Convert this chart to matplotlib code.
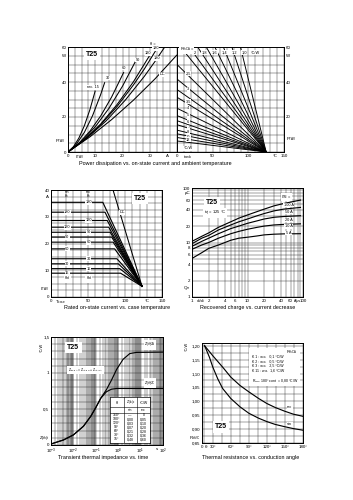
import matplotlib
matplotlib.use('Agg')
import matplotlib.pyplot as plt
import numpy as np

plt.rcParams['font.family'] = ['Liberation Sans', 'DejaVu Sans']
plt.rcParams['mathtext.fontset'] = 'custom'
plt.rcParams['mathtext.rm'] = 'Liberation Sans'
plt.rcParams['mathtext.it'] = 'Liberation Sans:italic'
plt.rcParams['mathtext.default'] = 'regular'

# ---------------- DATA ----------------
# Power dissipation vs on-state current (left part)
pd_labels = ['rec. 15', '30', '60', '90', '120', '180', '180', 'DC']
pd_I = [[0, 2, 4, 6, 8, 10],
        [0, 3, 6, 9, 12, 13.5],
        [0, 4, 8, 12, 16, 20.5],
        [0, 5, 10, 15, 20, 25],
        [0, 6, 12, 18, 24, 30.5],
        [0, 6, 12, 18, 24, 28, 33],
        [0, 7, 14, 21, 28, 32, 35.5],
        [0, 8, 16, 24, 32, 40]]
pd_P = [[0, 3.0, 8.0, 15.0, 24.0, 35.0],
        [0, 4.3, 11.2, 20.7, 32.9, 39.9],
        [0, 5.0, 11.8, 20.6, 31.4, 45.7],
        [0, 6.1, 14.4, 24.9, 37.6, 52.5],
        [0, 7.0, 16.0, 27.1, 40.1, 56.5],
        [0, 6.9, 15.6, 26.0, 38.3, 47.4, 60.0],
        [0, 8.0, 17.8, 29.6, 43.2, 51.9, 60.0],
        [0, 8.6, 18.5, 29.6, 41.9, 55.5]]
pd_label_xy = [(9.0, 37.0), (14.5, 42.3), (20.6, 48.0), (25.7, 52.6),
               (29.5, 56.4), (32.1, 59.3), (32.7, 53.6), (34.5, 44.5)]

# Power dissipation vs ambient temperature (right part)
amb_T_conv = 125
amb_P0_top = [62.5, 69.4, 78.1, 89.3, 104.2, 125.0, 156.0, 208.0]
amb_top_labels = ['2', '1,8', '1,6', '1,4', '1,2', '1,0', '°C/W']
amb_top_label_T = [25.2, 38.3, 52.3, 66.3, 80.9, 93.9, 109.3]
amb_P0_left = [50.0, 41.7, 35.7, 31.3, 25.0, 20.8, 17.9, 15.6, 12.5, 10.4, 8.3, 6.3]
amb_left_labels = ['2,5', '3', '3,5', '4', '5', '6', '7', '8', '10', '12', '°C/W']
amb_left_label_P = [45.0, 35.8, 29.1, 25.0, 21.1, 17.3, 14.1, 11.6, 8.8, 6.9, 2.1]

# Rated on-state current vs case temperature
ic_plateau = [35.4, 31.7, 28.6, 26.1, 24.2, 22.4, 20.5, 18.0, 14.3, 12.4, 10.6, 8.9]
ic_knee = [70, 73, 76, 78, 80, 82, 84, 86, 89, 91, 93, 94]
ic_end = (123, 4.0)
ic_labels = ['180', '180', '120', '120', '90', '90', '60', '60', '30', '30', '15', '15']
ic_dc_T = [76, 123]
ic_dc_I = [47.2, 4.0]

# Recovered charge vs current decrease
qr_x = [1, 1.5, 2, 3, 5, 7, 10, 15, 20, 30, 45, 90]
qr_series = {
    '100 A': [10.5, 13, 15, 19, 24, 28, 32, 37, 41, 47, 52, 60],
    '50 A': [9.5, 12, 13.5, 17, 21, 24, 27, 31, 34, 38, 41, 44],
    '20 A': [8.5, 10.5, 12, 14.5, 18, 20, 22.5, 25, 27, 29, 30, 31],
    '10 A': [7.5, 9, 10, 12, 14.5, 16, 17.5, 19, 20, 21, 21.5, 22],
    '5 A': [5.1, 6.5, 7.8, 9, 11, 12, 12.5, 13.2, 13.8, 14.2, 14.4, 14.5],
}
qr_label_y = [48.8, 36.3, 25.8, 20.0, 14.9]

# Transient thermal impedance vs time
zt_t = [0.001, 0.0036, 0.01, 0.028, 0.06, 0.1, 0.167, 0.3, 0.5, 0.85, 1.65, 3.3, 6.5, 100]
zt_JA = [0.014, 0.07, 0.14, 0.26, 0.40, 0.52, 0.65, 0.77, 0.90, 1.05, 1.19, 1.27, 1.286, 1.29]
zt_JC = [0.014, 0.07, 0.14, 0.26, 0.40, 0.52, 0.65, 0.74, 0.775, 0.785, 0.785, 0.785, 0.785, 0.785]
zt_theta = ['360°', '180°', '120°', '90°', '60°', '30°', '15°']
zt_sin = ['—', '0,00', '0,03', '0,07', '0,21', '0,32', '0,48']
zt_rec = ['0', '0,05', '0,10', '0,20', '0,28', '0,36', '0,60']

# Thermal resistance vs conduction angle
ra_rec_deg = [16.4, 30, 46.4, 60, 75.3, 90, 106.4, 120, 133.6, 148.9, 163.6, 180]
ra_rec = [1.20, 1.164, 1.123, 1.087, 1.057, 1.034, 1.010, 0.992, 0.978, 0.965, 0.954, 0.946]
ra_sin_deg = [16.4, 24.5, 30, 38.2, 46.4, 60, 75.3, 90, 106.4, 120, 133.6, 148.9, 163.6, 180]
ra_sin = [1.20, 1.158, 1.123, 1.081, 1.046, 1.010, 0.980, 0.957, 0.939, 0.927, 0.917, 0.909, 0.902, 0.896]
ra_table = ['K 1 : w.o.   0,1 °C/W', 'K 2 : w.o.   0,5 °C/W',
            'K 3 : w.o.   2,5 °C/W', 'K 11 : w.o.  1,6 °C/W']

# ---------------- FIGURE ----------------
W, H = 353, 500
fig = plt.figure(figsize=(W / 100, H / 100), dpi=100)
fig.patch.set_facecolor('white')

TICK = 3.2
LW = 0.75
GRID = dict(color='#222222', lw=0.3)


def px_ax(x0, y0, x1, y1):
    return fig.add_axes([x0 / W, 1 - y1 / H, (x1 - x0) / W, (y1 - y0) / H])


def style(ax):
    for s in ax.spines.values():
        s.set_linewidth(0.7)
    ax.tick_params(which='both', length=0, labelsize=TICK, pad=1.2)
    ax.xaxis.remove_overlapping_locs = False
    ax.yaxis.remove_overlapping_locs = False
    ax.grid(False, which='major')
    ax.grid(True, which='minor', **GRID)
    ax.set_axisbelow(True)


def tbox(ax, x, y, s, size=5, **kw):
    ax.text(x, y, s, fontsize=size, fontweight='bold', ha='center', va='center',
            bbox=dict(facecolor='white', edgecolor='none', pad=1.5), zorder=5, **kw)


def small(ax, x, y, s, size=2.8, bg=False, **kw):
    d = dict(fontsize=size, ha='center', va='center', zorder=6)
    d.update(kw)
    if bg:
        d['bbox'] = dict(facecolor='white', edgecolor='none', pad=0.3)
    ax.text(x, y, s, **d)


# ---- top left
ax1 = px_ax(68, 47, 177, 152)
style(ax1)
ax1.set_xlim(0, 40)
ax1.set_ylim(0, 60)
ax1.set_xticks(np.arange(0, 40.1, 2.5), minor=True)
ax1.set_yticks(np.arange(0, 60.1, 5), minor=True)
ax1.set_xticks([0, 4.3, 10, 20, 30, 36.5], ['0', r'$I_{TAV}$', '10', '20', '30', 'A'])
ax1.set_yticks([0, 7, 20, 40, 55, 60], ['0', r'$P_{TAV}$', '20', '40', 'W', '60'])
for I, P in zip(pd_I, pd_P):
    ax1.plot(I, P, color='k', lw=LW, solid_capstyle='butt')
for lab, (x, y) in zip(pd_labels, pd_label_xy):
    small(ax1, x, y, lab, bg=True)
small(ax1, 31.3, 62.0, 'θ =', clip_on=False)
tbox(ax1, 8.8, 56.0, 'T25')

# ---- top right
ax2 = px_ax(177, 47, 284, 152)
style(ax2)
ax2.set_xlim(0, 150)
ax2.set_ylim(0, 60)
ax2.set_xticks(np.arange(0, 150.1, 10), minor=True)
ax2.set_yticks(np.arange(0, 60.1, 5), minor=True)
ax2.set_xticks([0, 15, 50, 100, 138, 150], ['0', r'$t_{amb}$', '50', '100', '°C', '150'])
ax2.yaxis.tick_right()
ax2.set_yticks([8, 20, 40, 55, 60], [r'$P_{TAV}$', '20', '40', 'W', '60'])
for P0 in amb_P0_top + amb_P0_left:
    ax2.plot([0, amb_T_conv], [P0, 0], color='k', lw=LW * 0.9)
small(ax2, 13.6, 58.6, r'$R_{thCA}$ =', bg=True)
for lab, T in zip(amb_top_labels, amb_top_label_T):
    small(ax2, T, 56.8, lab, bg=True)
for lab, P in zip(amb_left_labels, amb_left_label_P):
    small(ax2, 15.9, P, lab, bg=True)

fig.text(155 / W, 1 - 163 / H, 'Power dissipation vs. on-state current and ambient temperature',
         fontsize=3.9, ha='center', va='center')

# ---- middle left
ax3 = px_ax(51, 190, 162, 297)
style(ax3)
ax3.set_xlim(0, 150)
ax3.set_ylim(0, 40)
ax3.set_xticks(np.arange(0, 150.1, 10), minor=True)
ax3.set_yticks(np.arange(0, 40.1, 2.5), minor=True)
ax3.set_xticks([0, 12.5, 50, 100, 130, 150], ['0', r'$T_{case}$', '50', '100', '°C', '150'])
ax3.set_yticks([0, 3.5, 10, 20, 30, 37.5, 40], ['0', r'$I_{TAV}$', '10', '20', '30', 'A', '40'])
for i, (pl, kn) in enumerate(zip(ic_plateau, ic_knee)):
    ax3.plot([0, kn, ic_end[0]], [pl, pl, ic_end[1]], color='k', lw=LW * 1.1)
    xl = 51 if i % 2 == 0 else 22
    small(ax3, xl, pl, ic_labels[i], bg=True)
ax3.plot(ic_dc_T, ic_dc_I, color='k', lw=LW)
small(ax3, 96, 31.7, 'DC', bg=True)
small(ax3, 22, 38.6, 'sin\nθ=', size=2.5, linespacing=0.9)
small(ax3, 51, 38.6, 'rec\nθ=', size=2.5, linespacing=0.9)
small(ax3, 22, 7.0, r'$θ_{el}$', bg=True)
small(ax3, 51, 7.0, r'$θ_{el}$', bg=True)
tbox(ax3, 120, 36.8, 'T25')

fig.text(117 / W, 1 - 307 / H, 'Rated on-state current vs. case temperature',
         fontsize=3.9, ha='center', va='center')

# ---- middle right
ax4 = px_ax(192, 188, 303, 297)
style(ax4)
ax4.set_xscale('log')
ax4.set_yscale('log')
ax4.set_xlim(1, 100)
ax4.set_ylim(1, 100)
mins = [m * 10 ** d for d in range(0, 2) for m in range(1, 10)] + [100]
ax4.set_xticks(mins, minor=True)
ax4.set_yticks(mins, minor=True)
ax4.set_xticks([1, 2, 4, 6, 10, 20, 40, 60, 100],
               ['1', '2', '4', '6', '10', '20', '40', '60', '100'],
               minor=False)
ax4.text(1.42, -0.018, '-di/dt', fontsize=2.5, ha='center', va='top',
         transform=ax4.get_xaxis_transform())
ax4.text(79, -0.018, 'A/µs', fontsize=2.5, ha='center', va='top',
         transform=ax4.get_xaxis_transform())
ax4.set_yticks([1, 1.53, 2, 4, 6, 8, 10, 20, 40, 60, 82, 100],
               ['1', r'$Q_{rr}$', '2', '4', '6', '8', '10', '20', '40', '60', 'µC', '100'],
               minor=False)
ax4.xaxis.set_minor_formatter(matplotlib.ticker.NullFormatter())
ax4.yaxis.set_minor_formatter(matplotlib.ticker.NullFormatter())
for (lab, vals), ly in zip(qr_series.items(), qr_label_y):
    ax4.plot(qr_x, vals, color='k', lw=LW * 1.1)
    small(ax4, 55, ly, lab, bg=True)
small(ax4, 50, 68, r'$I_{TM}$ =', bg=True)
tbox(ax4, 2.3, 55, 'T25')
small(ax4, 2.6, 35, r'$t_{vj}$ = 125 °C', size=3.0, bg=True)

fig.text(248 / W, 1 - 308 / H, 'Recovered charge vs. current decrease',
         fontsize=3.9, ha='center', va='center')

# ---- bottom left
ax5 = px_ax(51, 337, 163, 445)
style(ax5)
ax5.set_xscale('log')
ax5.set_xlim(1e-3, 1e2)
ax5.set_ylim(0, 1.5)
mins5 = [m * 10.0 ** d for d in range(-3, 2) for m in np.arange(1, 10, 0.5)] + [100]
ax5.set_xticks(mins5, minor=True)
ax5.set_yticks(np.arange(0, 1.51, 0.1), minor=True)
ax5.set_xticks([1e-3, 1e-2, 1e-1, 1, 10, 10 ** 1.75, 100],
               [r'$10^{-3}$', r'$10^{-2}$', r'$10^{-1}$', r'$10^{0}$', r'$10^{1}$', 's', r'$10^{2}$'],
               minor=False)
ax5.xaxis.set_minor_formatter(matplotlib.ticker.NullFormatter())
ax5.set_yticks([0, 0.12, 0.5, 1, 1.5], ['0', r'$Z_{(th)t}$', '0,5', '1', '1,5'])
ax5.text(-0.085, 0.9, '°C/W', rotation=90, fontsize=2.8, transform=ax5.transAxes,
         ha='center', va='center')
ax5.plot(zt_t, zt_JA, color='k', lw=LW * 1.1)
ax5.plot(zt_t, zt_JC, color='k', lw=LW * 1.1)
small(ax5, 26, 1.39, r'$Z_{(th)JA}$', bg=True)
small(ax5, 26, 0.86, r'$Z_{(th)JC}$', bg=True)
tbox(ax5, 0.0101, 1.35, 'T25')
small(ax5, 0.035, 1.045, r'$Z_{(th)JA} = Z_{(th)JC} + Z_{(th)CA}$', size=2.5, bg=True)

tab = fig.add_axes([110 / W, 1 - 443 / H, 40 / W, 46 / H])
tab.set_xlim(0, 1)
tab.set_ylim(0, 1)
tab.set_xticks([])
tab.set_yticks([])
for s in tab.spines.values():
    s.set_linewidth(0.5)
tab.axvline(0.34, color='k', lw=0.4)
tab.axvline(0.67, color='k', lw=0.4)
tab.axhline(0.78, color='k', lw=0.4)
tab.axhline(0.66, color='k', lw=0.4)
tab.text(0.17, 0.88, 'θ', fontsize=2.8, ha='center', va='center')
tab.text(0.505, 0.88, r'$Z_{(th)z}$', fontsize=2.6, ha='center', va='center')
tab.text(0.835, 0.88, '°C/W', fontsize=2.5, ha='center', va='center')
tab.text(0.505, 0.72, 'sin', fontsize=2.4, ha='center', va='center')
tab.text(0.835, 0.72, 'rec', fontsize=2.4, ha='center', va='center')
for k, (th, sv, rv) in enumerate(zip(zt_theta, zt_sin, zt_rec)):
    yy = 0.60 - k * 0.087
    tab.text(0.17, yy, th, fontsize=2.5, ha='center', va='center')
    tab.text(0.505, yy, sv, fontsize=2.5, ha='center', va='center')
    tab.text(0.835, yy, rv, fontsize=2.5, ha='center', va='center')

fig.text(103 / W, 1 - 457 / H, 'Transient thermal impedance vs. time',
         fontsize=3.9, ha='center', va='center')

# ---- bottom right
ax6 = px_ax(202, 343, 303, 443)
style(ax6)
ax6.set_xlim(12, 180)
ax6.set_ylim(0.85, 1.21)
ax6.set_xticks(np.arange(15, 180.1, 15), minor=True)
ax6.set_yticks(np.arange(0.85, 1.211, 0.025), minor=True)
ax6.set_xticks([12, 19, 30, 60, 90, 120, 150, 180],
               ['0', 'θ', '30°', '60°', '90°', '120°', '150°', '180°'])
yv = [0.85, 0.873, 0.90, 0.95, 1.00, 1.05, 1.10, 1.15, 1.20]
ax6.set_yticks(yv, ['0,85', r'$R_{thJC}$', '0,90', '0,95', '1,00', '1,05', '1,10', '1,15', '1,20'])
ax6.text(-0.15, 0.97, '°C/W', rotation=90, fontsize=2.8, transform=ax6.transAxes,
         ha='center', va='center')
ax6.plot(ra_rec_deg, ra_rec, color='k', lw=LW * 1.1)
ax6.plot(ra_sin_deg, ra_sin, color='k', lw=LW * 1.1)
small(ax6, 0.87, 0.36, 'rec', transform=ax6.transAxes, bg=True)
small(ax6, 0.87, 0.19, 'sin', transform=ax6.transAxes, bg=True)
ax6.add_patch(plt.Rectangle((0.47, 0.57), 0.5, 0.38, transform=ax6.transAxes,
                            facecolor='white', edgecolor='none', zorder=4))
small(ax6, 0.89, 0.91, r'$R_{thCA}$', transform=ax6.transAxes)
for k, row in enumerate(ra_table):
    ax6.text(0.5, 0.86 - k * 0.045, row, fontsize=2.5, transform=ax6.transAxes,
             ha='left', va='center', zorder=6)
ax6.text(0.5, 0.62, r'$R_{thJC}$ 180° cont  = 0,80 °C/W', fontsize=2.5,
         transform=ax6.transAxes, ha='left', va='center', zorder=6)
tbox(ax6, 0.19, 0.16, 'T25', transform=ax6.transAxes)

fig.text(251 / W, 1 - 457 / H, 'Thermal resistance vs. conduction angle',
         fontsize=3.9, ha='center', va='center')

fig.savefig('out.png', dpi=100, facecolor='white')
